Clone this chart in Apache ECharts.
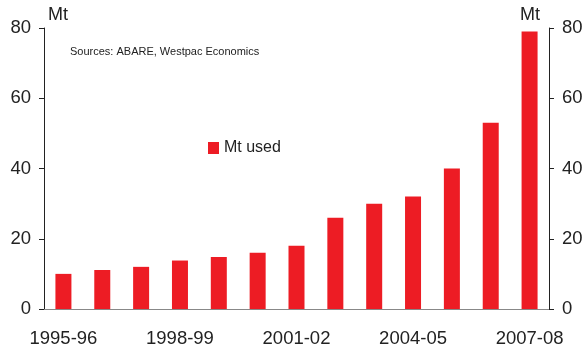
<!DOCTYPE html>
<html>
<head>
<meta charset="utf-8">
<script src="https://cdn.jsdelivr.net/npm/echarts@6/dist/echarts.min.js"></script>
<style>
  html, body { margin: 0; padding: 0; background: #fff; }
  #chart { width: 587px; height: 349px; }
</style>
</head>
<body>
<div id="chart"></div>
<script>
const years = ['1995-96', '1996-97', '1997-98', '1998-99', '1999-00', '2000-01', '2001-02',
  '2002-03', '2003-04', '2004-05', '2005-06', '2006-07', '2007-08'];
const mtUsed = [10, 11.1, 12, 13.8, 14.8, 16, 18, 26, 30, 32, 40, 53, 79];
const yTicks = { min: 0, max: 80, interval: 20 };

const chart = echarts.init(document.getElementById('chart'));
const font = 'Liberation Sans, Arial, sans-serif';
const red = '#ED1C24';

const yAxisBase = {
  type: 'value',
  min: yTicks.min,
  max: yTicks.max,
  interval: yTicks.interval,
  name: 'Mt',
  nameLocation: 'end',
  nameGap: 4,
  splitLine: { show: false },
  axisLine: { show: true, lineStyle: { color: '#222', width: 1 } },
  axisTick: { show: true, length: 5, lineStyle: { color: '#222' } },
  axisLabel: { fontSize: 18.5, color: '#222', fontFamily: font, margin: 13 }
};

chart.setOption({
  animation: false,
  grid: { left: 44, right: 38, top: 28, bottom: 40, containLabel: false },
  legend: {
    data: ['Mt used'],
    left: 203,
    top: 135,
    icon: 'rect',
    itemWidth: 11,
    itemHeight: 12,
    textStyle: { fontSize: 16, color: '#222', fontFamily: font }
  },
  graphic: [{
    type: 'text',
    left: 70,
    top: 46,
    style: { text: 'Sources: ABARE, Westpac Economics', fontSize: 11, fill: '#222', fontFamily: font }
  }],
  xAxis: [{
    type: 'category',
    data: years,
    boundaryGap: true,
    axisLine: { lineStyle: { color: '#222' } },
    axisTick: { interval: 2, length: 7, lineStyle: { color: '#222' } },
    axisLabel: { interval: 2, fontSize: 18.5, color: '#222', fontFamily: font, margin: 20 }
  }, {
    type: 'category',
    data: years,
    position: 'top',
    axisLine: { show: true, lineStyle: { color: '#888' } },
    axisTick: { show: false },
    axisLabel: { show: false }
  }],
  yAxis: [
    Object.assign({}, yAxisBase, {
      position: 'left',
      nameTextStyle: { fontSize: 18, color: '#222', fontFamily: font, align: 'left', padding: [0, 0, 0, 4] }
    }),
    Object.assign({}, yAxisBase, {
      position: 'right',
      nameTextStyle: { fontSize: 18, color: '#222', fontFamily: font, align: 'right', padding: [0, 9, 0, 0] }
    })
  ],
  series: [{
    name: 'Mt used',
    type: 'bar',
    data: mtUsed,
    barWidth: 16,
    itemStyle: { color: red }
  }]
});
</script>
</body>
</html>
